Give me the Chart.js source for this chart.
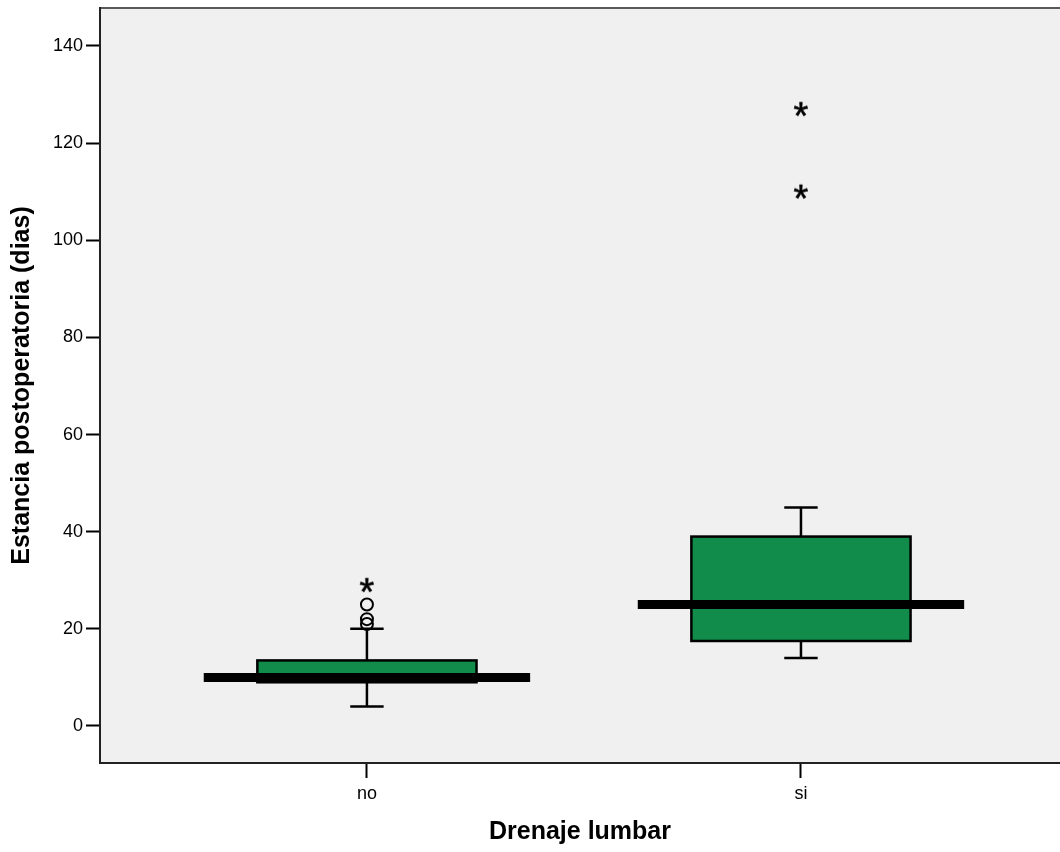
<!DOCTYPE html>
<html>
<head>
<meta charset="utf-8">
<script src="https://cdn.jsdelivr.net/npm/chart.js@4.4.1/dist/chart.umd.min.js"></script>
<style>
    html, body { margin: 0; padding: 0; background: #ffffff; }
    #wrap { width: 1060px; height: 852px; position: relative; }
</style>
</head>
<body>
<div id="wrap"><canvas id="boxChart"></canvas></div>
<script>
// --- data ---
const categories = ['no', 'si'];
const lowerWhisker = [4, 14];
const q1Values = [9, 17.5];
const medianValues = [10, 25];
const q3Values = [13.5, 39];
const upperWhisker = [20, 45];
const outlierCircles = [[21, 22, 25], []];   // o
const outlierStars = [[29], [110, 127]];       // *
const yTicks = [0, 20, 40, 60, 80, 100, 120, 140];

// --- styles ---
const FONT_FAMILY = '"Liberation Sans", Arial, sans-serif';
const PLOT_BG = '#f0f0f0';
const BOX_COLOR = '#118c4a';
const BOX_WIDTH = 0.505;     // in category units
const MEDIAN_WIDTH = 0.752;
const CAP_WIDTH = 0.077;

// asterisk marker drawn once on a small canvas
function makeStar() {
    const c = document.createElement('canvas');
    c.width = 26; c.height = 26;
    const g = c.getContext('2d');
    g.fillStyle = '#000';
    g.strokeStyle = '#000';
    g.lineWidth = 0.6;
    g.font = '38px ' + FONT_FAMILY;
    g.textAlign = 'center';
    g.textBaseline = 'alphabetic';
    const m = g.measureText('*');
    const base = 13 + (m.actualBoundingBoxAscent - m.actualBoundingBoxDescent) / 2;
    g.fillText('*', 13, base);
    g.strokeText('*', 13, base);
    return c;
}

const toPoints = (lists) => lists.flatMap((vals, i) => vals.map(v => ({ x: i, y: v })));

// draws plot background, boxes, whiskers and medians through the chart scales
const boxPlotPlugin = {
    id: 'boxPlot',
    beforeDatasetsDraw(chart) {
        const { ctx, chartArea: a, scales: { x, y } } = chart;
        ctx.save();
        ctx.fillStyle = PLOT_BG;
        ctx.fillRect(a.left, a.top, a.right - a.left, a.bottom - a.top);

        categories.forEach((cat, i) => {
            const cx = x.getPixelForValue(i);
            const bl = x.getPixelForValue(i - BOX_WIDTH / 2);
            const br = x.getPixelForValue(i + BOX_WIDTH / 2);
            const capL = x.getPixelForValue(i - CAP_WIDTH / 2);
            const capR = x.getPixelForValue(i + CAP_WIDTH / 2);
            const yQ1 = y.getPixelForValue(q1Values[i]);
            const yQ3 = y.getPixelForValue(q3Values[i]);
            const yLo = y.getPixelForValue(lowerWhisker[i]);
            const yHi = y.getPixelForValue(upperWhisker[i]);
            const yMed = y.getPixelForValue(medianValues[i]);

            // whiskers
            ctx.strokeStyle = '#000';
            ctx.lineWidth = 2.5;
            ctx.beginPath();
            ctx.moveTo(cx, yQ3); ctx.lineTo(cx, yHi);
            ctx.moveTo(cx, yQ1); ctx.lineTo(cx, yLo);
            ctx.moveTo(capL, yHi); ctx.lineTo(capR, yHi);
            ctx.moveTo(capL, yLo); ctx.lineTo(capR, yLo);
            ctx.stroke();

            // box
            ctx.fillStyle = BOX_COLOR;
            ctx.fillRect(bl, yQ3, br - bl, yQ1 - yQ3);
            ctx.lineWidth = 2.5;
            ctx.strokeRect(bl, yQ3, br - bl, yQ1 - yQ3);

            // median
            ctx.lineWidth = 9;
            ctx.beginPath();
            ctx.moveTo(x.getPixelForValue(i - MEDIAN_WIDTH / 2), yMed);
            ctx.lineTo(x.getPixelForValue(i + MEDIAN_WIDTH / 2), yMed);
            ctx.stroke();
        });
        ctx.restore();
    },
    afterDraw(chart) {
        const { ctx, chartArea: a } = chart;
        ctx.save();
        ctx.lineWidth = 2;
        ctx.strokeStyle = '#5a5a5a';
        ctx.beginPath();
        ctx.moveTo(a.left, a.top); ctx.lineTo(a.right, a.top);
        ctx.stroke();
        ctx.strokeStyle = '#222';
        ctx.beginPath();
        ctx.moveTo(a.left, a.top - 1); ctx.lineTo(a.left, a.bottom);
        ctx.lineTo(a.right, a.bottom);
        ctx.stroke();
        ctx.restore();
    }
};

const ctx = document.getElementById('boxChart').getContext('2d');
new Chart(ctx, {
    type: 'scatter',
    data: {
        datasets: [{
            label: 'atipicos',
            data: toPoints(outlierCircles),
            pointStyle: 'circle',
            pointRadius: 6,
            borderWidth: 2,
            borderColor: '#000',
            backgroundColor: 'rgba(0,0,0,0)'
        }, {
            label: 'extremos',
            data: toPoints(outlierStars),
            pointStyle: makeStar(),
            pointRadius: 8
        }]
    },
    options: {
        responsive: true,
        maintainAspectRatio: false,
        animation: false,
        layout: { autoPadding: false, padding: { top: 8, right: 0, bottom: 0, left: 0 } },
        plugins: { legend: { display: false }, tooltip: { enabled: false } },
        scales: {
            x: {
                type: 'linear',
                min: -0.615,
                max: 1.5968,
                afterFit: (scale) => {
                    scale.height = 89;
                    scale.paddingLeft = 0;
                    scale.paddingRight = 0;
                },
                afterBuildTicks: (scale) => { scale.ticks = categories.map((c, i) => ({ value: i })); },
                border: { display: false },
                grid: { display: true, drawOnChartArea: false, drawTicks: true, tickLength: 15, tickColor: '#000', tickWidth: 2 },
                ticks: {
                    color: '#000',
                    font: { family: FONT_FAMILY, size: 18 },
                    padding: 5,
                    maxRotation: 0,
                    callback: (v) => categories[v]
                },
                title: {
                    display: true,
                    text: 'Drenaje lumbar',
                    color: '#000',
                    font: { family: FONT_FAMILY, size: 25, weight: 'bold' },
                    padding: { top: 0, bottom: 5 }
                }
            },
            y: {
                min: -7.62,
                max: 147.82,
                afterFit: (scale) => {
                    scale.width = 100;
                    scale.paddingTop = 0;
                    scale.paddingBottom = 0;
                },
                afterBuildTicks: (scale) => { scale.ticks = yTicks.map(v => ({ value: v })); },
                border: { display: false },
                grid: { display: true, drawOnChartArea: false, drawTicks: true, tickLength: 14, tickColor: '#000', tickWidth: 2 },
                ticks: {
                    color: '#000',
                    font: { family: FONT_FAMILY, size: 18 },
                    padding: 3
                },
                title: {
                    display: true,
                    text: 'Estancia postoperatoria (dias)',
                    color: '#000',
                    font: { family: FONT_FAMILY, size: 25, weight: 'bold' },
                    padding: { top: 7, bottom: 0 }
                }
            }
        }
    },
    plugins: [boxPlotPlugin]
});
</script>
</body>
</html>
